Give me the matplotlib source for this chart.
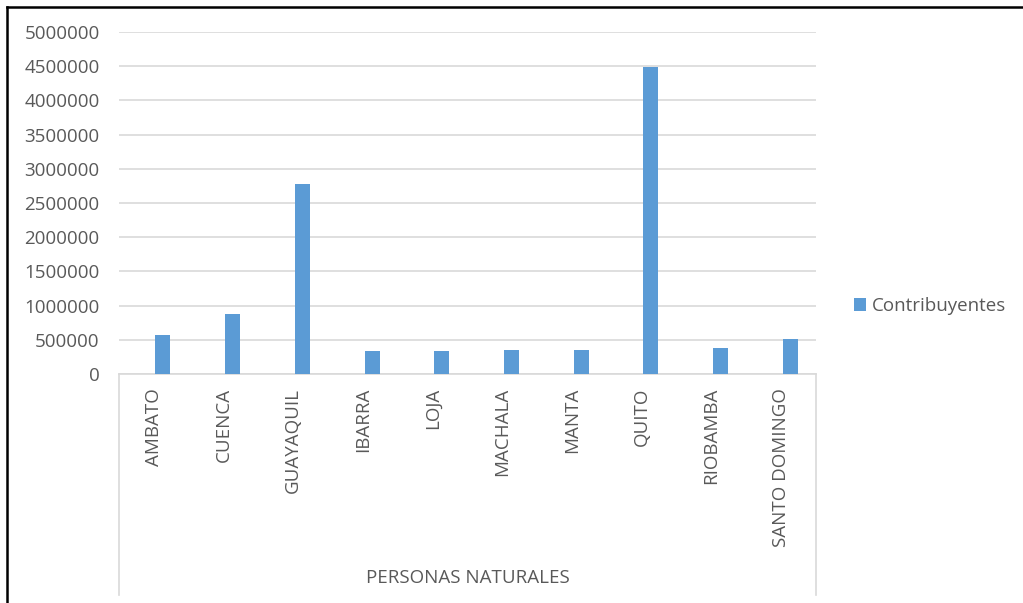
import matplotlib
matplotlib.use("Agg")
import matplotlib.pyplot as plt
from matplotlib.lines import Line2D
import numpy as np

cities = ["AMBATO", "CUENCA", "GUAYAQUIL", "IBARRA", "LOJA",
          "MACHALA", "MANTA", "QUITO", "RIOBAMBA", "SANTO DOMINGO"]
contribuyentes = [570000, 877000, 2780000, 332000, 332000,
                  351000, 351000, 4490000, 375000, 507000]
yticks = list(range(0, 5000001, 500000))
group_label = "PERSONAS NATURALES"
series_name = "Contribuyentes"

plt.rcParams['font.family'] = ['Open Sans', 'DejaVu Sans']
txt = "#595959"
grid = "#d9d9d9"
W, H = 1023, 603

fig = plt.figure(figsize=(W / 100, H / 100), dpi=100)
ax = fig.add_axes([119 / W, (H - 374) / H, 697 / W, 342 / H])

x = np.arange(len(cities))
ax.bar(x + 0.13, contribuyentes, width=0.215, color="#5B9BD5", label=series_name, zorder=3)

ax.set_xlim(-0.5, len(cities) - 0.5)
ax.set_ylim(0, 5000000)
ax.set_yticks(yticks)
ax.set_yticklabels([str(v) for v in yticks])
ax.set_xticks(x)
ax.set_xticklabels(cities, rotation=90, va="top")
ax.tick_params(axis="y", length=0, pad=14, labelsize=13.5, labelcolor=txt)
ax.tick_params(axis="x", length=0, pad=10, labelsize=13.5, labelcolor=txt)
ax.grid(axis="y", color=grid, lw=1.2, zorder=0)
for s in ["top", "right", "left"]:
    ax.spines[s].set_visible(False)
ax.spines["bottom"].set_color(grid)
ax.spines["bottom"].set_linewidth(1.2)

# group box lines below the category axis
ax.plot([0, 0], [0, -0.645], transform=ax.transAxes, color=grid, lw=1.2, clip_on=False)
ax.plot([1, 1], [0, -0.645], transform=ax.transAxes, color=grid, lw=1.2, clip_on=False)
ax.text(0.5, -0.596, group_label, transform=ax.transAxes, ha="center", va="center",
        fontsize=13.5, color=txt)

fig.legend(loc="center left", bbox_to_anchor=(854 / W, 1 - 306 / H), frameon=False,
           handlelength=0.65, handleheight=0.65, handletextpad=0.3, borderpad=0,
           borderaxespad=0, fontsize=13.5, labelcolor=txt)

# outer frame (cropped at right and bottom)
fig.add_artist(Line2D([6.5 / W, 1], [1 - 6.5 / H, 1 - 6.5 / H], color="black", lw=1.8))
fig.add_artist(Line2D([6.5 / W, 6.5 / W], [0, 1 - 6.5 / H], color="black", lw=1.8))

fig.savefig("out.png", dpi=100)
